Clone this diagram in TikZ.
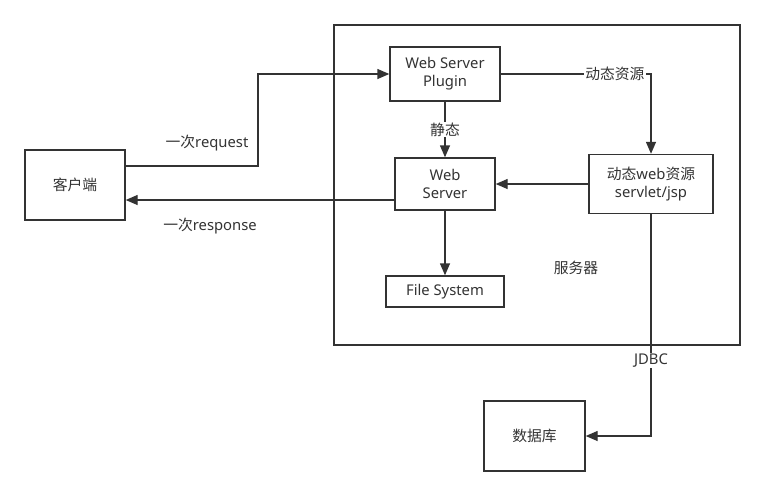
\documentclass[tikz,border=0pt]{standalone}
\usepackage{fontspec}
\setmainfont{Noto Sans}
\newfontfamily\cjk{Noto Sans CJK SC}
\usetikzlibrary{arrows.meta}
\definecolor{stroke}{HTML}{333333}

\begin{document}
\begin{tikzpicture}[x=1pt, y=-1pt,
  box/.style={draw=stroke, line width=1.4pt, inner sep=0pt, align=center,
              text=stroke, font=\fontsize{14.8}{18}\selectfont},
  lbl/.style={fill=white, inner sep=1pt, text=stroke, font=\fontsize{14.8}{18}\selectfont},
  arr/.style={-{Triangle[length=12pt, width=10pt]}, draw=stroke, line width=1.4pt},
]
  \useasboundingbox (0,0) rectangle (765,496);

  \node[box, minimum width=406pt, minimum height=320pt] (server) at (537,185) {};
  \node[lbl, fill=none] (serverlbl) at (576,268) {\cjk 服务器};

  \node[box, minimum width=100pt, minimum height=70pt] (client) at (75,185) {\cjk 客户端};
  \node[box, minimum width=110pt, minimum height=54pt] (plugin) at (445,74) {Web Server\\Plugin};
  \node[box, minimum width=100pt, minimum height=52pt] (web) at (445,184) {Web\\Server};
  \node[box, minimum width=124pt, minimum height=59pt] (dyn) at (651,184) {{\cjk 动态}web{\cjk 资源}\\servlet/jsp};
  \node[box, minimum width=118pt, minimum height=31pt] (fs) at (445,291.5) {File System};
  \node[box, minimum width=101pt, minimum height=70pt] (db) at (534.5,436) {\cjk 数据库};

  % request / response
  \coordinate (reqbend) at (258,120);
  \draw[arr] ([yshift=19pt]client.east) -| (reqbend) |- (plugin.west);
  \node[lbl, fill=none] (reqlbl) at (207,143) {{\cjk 一次}request};
  \draw[arr] ([yshift=-16pt]web.west) -- ([yshift=-15pt]client.east);
  \node[lbl, fill=none] (resplbl) at (210,226) {{\cjk 一次}response};

  % inside the server
  \draw[arr] (plugin.east) -| (dyn.north) node[lbl, pos=0.38] {\cjk 动态资源};
  \draw[arr] (plugin) -- (web) node[lbl, midway] {\cjk 静态};
  \draw[arr] (dyn.west) -- (web.east);
  \draw[arr] (web) -- (fs);

  % database
  \draw[arr] (dyn.south) |- (db.east) node[lbl, pos=0.33] {JDBC};
\end{tikzpicture}
\end{document}
